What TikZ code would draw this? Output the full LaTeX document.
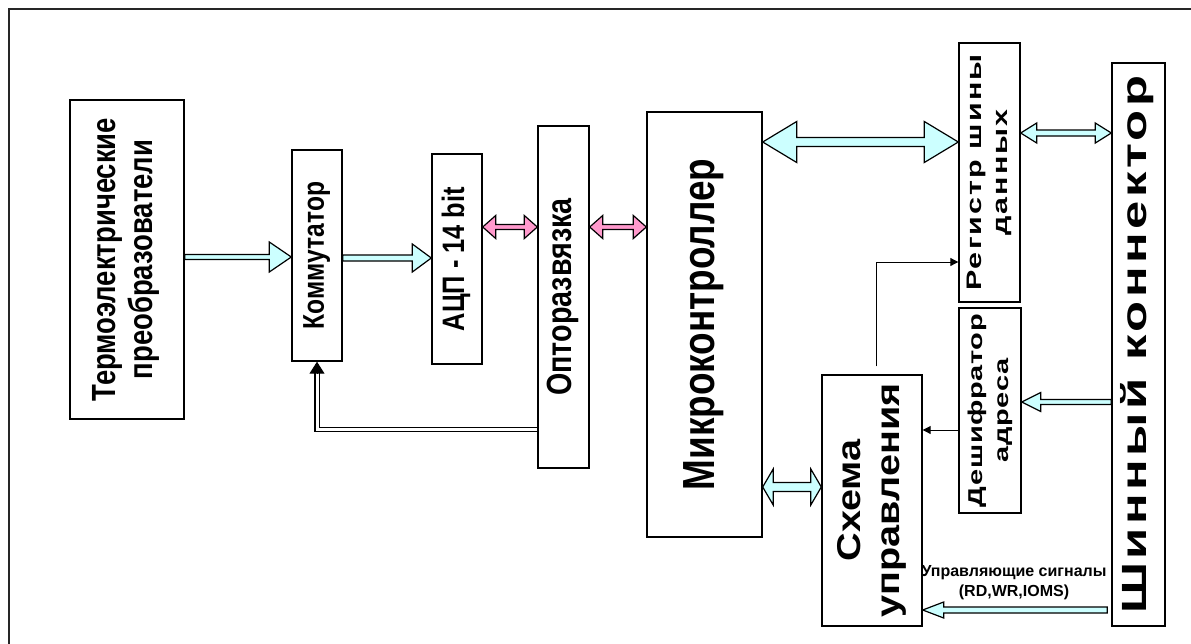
\documentclass[tikz,border=0pt]{standalone}
\usepackage{fontspec}
\setmainfont{Liberation Sans}
\newfontfamily\cf[FakeStretch=0.82]{Liberation Sans}
\newfontfamily\wf[FakeStretch=1.45]{Liberation Sans}
\newfontfamily\mf[FakeStretch=1.2]{Liberation Sans}
\usetikzlibrary{calc,arrows.meta}
\definecolor{acyan}{RGB}{204,255,255}
\definecolor{apink}{RGB}{255,153,204}
\newcommand\rtext[2]{\rotatebox{90}{#1\begin{tabular}{@{}c@{}}#2\end{tabular}}}
\begin{document}
\begin{tikzpicture}[x=1pt,y=-1pt,
  box/.style={draw, line width=1.4pt, inner sep=0pt, rectangle},
  barrow/.style={draw=black, line width=1.2pt, line join=miter, miter limit=20},
  sarr/.style n args={3}{to path={let \p1=(\tikztostart), \p2=(\tikztotarget), \n1={sign(\x2-\x1)} in
     (\x1,\y1+#1) -- (\x2-\n1*#3,\y2+#1) -- (\x2-\n1*#3,\y2+#2) -- (\x2,\y2) -- (\x2-\n1*#3,\y2-#2) -- (\x2-\n1*#3,\y2-#1) -- (\x1,\y1-#1) -- cycle}},
  darr/.style n args={3}{to path={let \p1=(\tikztostart), \p2=(\tikztotarget), \n1={sign(\x2-\x1)} in
     (\x1+\n1*#3,\y1+#1) -- (\x2-\n1*#3,\y2+#1) -- (\x2-\n1*#3,\y2+#2) -- (\x2,\y2) -- (\x2-\n1*#3,\y2-#2) -- (\x2-\n1*#3,\y2-#1) -- (\x1+\n1*#3,\y1-#1) -- (\x1+\n1*#3,\y1-#2) -- (\x1,\y1) -- (\x1+\n1*#3,\y1+#2) -- cycle}},
  thinarrow/.style={draw=black, line width=1pt, -{Triangle[length=8pt,width=8pt]}},
  dline/.style={draw=black, double=white, double distance=3pt, line width=1.4pt}
]
\useasboundingbox (0,0) rectangle (1191,643);
% frame
\draw[line width=2pt, black!85] (9,660) -- (9,9) -- (1200,9);

% boxes
\node[box, minimum width=114pt, minimum height=319pt] (t) at (127,259.5)
  {\rtext{\fontsize{33.5}{37}\selectfont\cf\bfseries}{Термоэлектрические\\преобразователи}};
\node[box, minimum width=50pt, minimum height=211pt] (k) at (317,255.5)
  {\rtext{\fontsize{30}{34}\selectfont\cf\bfseries}{Коммутатор}};
\node[box, minimum width=50pt, minimum height=210pt] (a) at (457,259)
  {\rtext{\fontsize{31}{36}\selectfont\cf\bfseries}{АЦП - 14 bit}};
\node[box, minimum width=51pt, minimum height=342pt] (o) at (563.5,297)
  {\rtext{\fontsize{35}{38}\selectfont\cf\bfseries}{Опторазвязка}};
\node[box, minimum width=115pt, minimum height=425pt] (m) at (704.5,324.5)
  {\rtext{\fontsize{45}{50}\selectfont\cf\bfseries}{Микроконтроллер}};
\node[box, minimum width=61pt, minimum height=259pt] (r) at (989.5,172.5)
  {\rtext{\fontsize{21}{26}\selectfont\wf\bfseries\addfontfeature{LetterSpace=10}}{Регистр шины\\данных}};
\node[box, minimum width=62pt, minimum height=205pt] (d) at (990,410.5)
  {\rtext{\fontsize{20}{26}\selectfont\wf\bfseries\addfontfeature{LetterSpace=3}}{Дешифратор\\адреса}};
\node[box, minimum width=53pt, minimum height=563pt] (c) at (1138.5,344.5)
  {\rtext{\fontsize{35}{40}\selectfont\wf\bfseries\addfontfeature{LetterSpace=10}}{Шинный коннектор}};
\node[box, minimum width=100pt, minimum height=251pt] (s) at (872,500.5)
  {\rtext{\fontsize{33}{39}\selectfont\mf\bfseries}{Схема\\управления}};

\node[font=\bfseries\fontsize{16}{20}\selectfont, align=center, inner sep=0pt] (lbl) at (1014,583)
  {Управляющие сигналы\\(RD,WR,IOMS)};

% block arrows
\draw[barrow, fill=acyan, sarr={2.5pt}{15pt}{22pt}] (t.east |- 0,257) to (k.west |- 0,257);
\draw[barrow, fill=acyan, sarr={3pt}{14pt}{19pt}] (k.east |- 0,258) to (a.west |- 0,258);
\draw[barrow, fill=apink, darr={2.5pt}{11.5pt}{13pt}] (a.east |- 0,227) to (o.west |- 0,227);
\draw[barrow, fill=apink, darr={2.5pt}{11.5pt}{13pt}] (o.east |- 0,227) to (m.west |- 0,227);
\draw[barrow, fill=acyan, darr={4.5pt}{20.5pt}{34pt}] (m.east |- 0,142) to (r.west |- 0,142);
\draw[barrow, fill=acyan, darr={3pt}{10pt}{16pt}] (r.east |- 0,133) to (c.west |- 0,133);
\draw[barrow, fill=acyan, darr={4.5pt}{18pt}{10.5pt}] (m.east |- 0,487) to (s.west |- 0,487);
\draw[barrow, fill=acyan, sarr={2.5pt}{9.5pt}{19pt}] (c.west |- 0,402) to (d.east |- 0,402);
\draw[barrow, fill=acyan, sarr={3pt}{8pt}{21pt}] ($(c.west |- 0,610)+(-4,0)$) to (s.east |- 0,610);

% thin arrows
\draw[thinarrow] ($(s.north)+(4,-8)$) |- (r.west |- 0,262);
\draw[thinarrow] (d.west |- 0,430) -- (s.east |- 0,430);

% feedback double line
\draw[dline] (o.west |- 0,429.5) -| ($(k.south)+(0,11)$);
\draw[draw=black, line width=1pt, -{Triangle[length=12pt,width=15pt]}] ($(k.south)+(0,12)$) -- (k.south);
\end{tikzpicture}
\end{document}
